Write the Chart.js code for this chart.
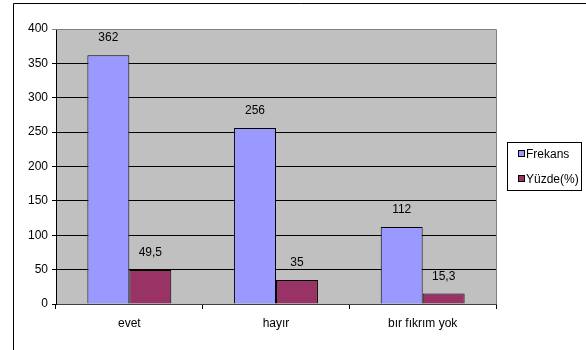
<!DOCTYPE html>
<html lang="tr">
<head>
    <meta charset="UTF-8">
    <title>Frekans ve Yüzde</title>
    <script src="https://cdn.jsdelivr.net/npm/chart.js@4.4.1/dist/chart.umd.min.js"></script>
    <style>
        html, body { margin: 0; padding: 0; background: #fff; }
        #wrap { width: 586px; height: 350px; position: relative; }
    </style>
</head>
<body>
    <div id="wrap"><canvas id="barChart"></canvas></div>
    <script>
        // data
        const categories = ['evet', 'hayır', 'bır fıkrım yok'];
        const frekans = [362, 256, 112];
        const yuzde = [49.5, 35, 15.3];
        const seriesNames = ['Frekans', 'Yüzde(%)'];
        const yTicks = [0, 50, 100, 150, 200, 250, 300, 350, 400];

        const FONT = '"Liberation Sans", Arial, sans-serif';

        // grey plot area, outer frame and the right-hand legend
        const excelLook = {
            id: 'excelLook',
            beforeDraw(chart) {
                const { ctx, chartArea: a } = chart;
                ctx.save();
                ctx.fillStyle = '#c0c0c0';
                ctx.fillRect(a.left, a.top, a.right - a.left, a.bottom - a.top);
                // outer frame (left + top edge only visible)
                ctx.strokeStyle = '#000';
                ctx.lineWidth = 1;
                ctx.beginPath();
                ctx.moveTo(13.5, chart.height + 5);
                ctx.lineTo(13.5, 3.5);
                ctx.lineTo(chart.width + 5, 3.5);
                ctx.stroke();
                ctx.restore();
            },
            afterDraw(chart) {
                const { ctx, chartArea: a } = chart;
                ctx.save();
                // plot border top/right
                ctx.strokeStyle = '#808080';
                ctx.lineWidth = 1;
                ctx.beginPath();
                ctx.moveTo(a.left, a.top + 0.5);
                ctx.lineTo(a.right + 0.5, a.top + 0.5);
                ctx.lineTo(a.right + 0.5, a.bottom);
                ctx.stroke();

                // value labels above bars
                ctx.font = '12px ' + FONT;
                ctx.fillStyle = '#000';
                ctx.textAlign = 'center';
                ctx.textBaseline = 'bottom';
                chart.data.datasets.forEach((ds, i) => {
                    chart.getDatasetMeta(i).data.forEach((bar, j) => {
                        const txt = String(ds.data[j]).replace('.', ',');
                        ctx.fillText(txt, bar.x, bar.y - 11);
                    });
                });

                // legend box
                const lx = 507.5, ly = 142.5, lw = 74, lh = 48;
                ctx.fillStyle = '#fff';
                ctx.fillRect(lx, ly, lw, lh);
                ctx.strokeStyle = '#000';
                ctx.strokeRect(lx, ly, lw, lh);
                ctx.textAlign = 'left';
                ctx.textBaseline = 'middle';
                chart.data.datasets.forEach((ds, i) => {
                    const cy = 154 + i * 25;
                    ctx.fillStyle = ds.backgroundColor;
                    ctx.fillRect(518.5, cy - 3.5, 6, 6);
                    ctx.strokeStyle = '#000';
                    ctx.strokeRect(518.5, cy - 3.5, 6, 6);
                    ctx.fillStyle = '#000';
                    ctx.fillText(ds.label, 526, cy + 1);
                });
                ctx.restore();
            }
        };

        new Chart(document.getElementById('barChart'), {
            type: 'bar',
            data: {
                labels: categories,
                datasets: [{
                    label: seriesNames[0],
                    data: frekans,
                    backgroundColor: '#9999ff',
                    borderColor: '#000',
                    borderWidth: 1
                }, {
                    label: seriesNames[1],
                    data: yuzde,
                    backgroundColor: '#993366',
                    borderColor: '#000',
                    borderWidth: 1
                }]
            },
            options: {
                responsive: true,
                maintainAspectRatio: false,
                animation: false,
                layout: { padding: { left: 13, top: 29, right: 90, bottom: 0 } },
                datasets: {
                    bar: { categoryPercentage: 0.572, barPercentage: 1 }
                },
                scales: {
                    x: {
                        grid: {
                            offset: true,
                            drawOnChartArea: false,
                            drawTicks: true,
                            tickLength: 5,
                            color: '#000'
                        },
                        border: { color: '#404040', width: 1 },
                        ticks: {
                            color: '#000',
                            font: { family: FONT, size: 12 },
                            padding: 7,
                            maxRotation: 0
                        },
                        afterFit(scale) { scale.height = 46; }
                    },
                    y: {
                        min: 0,
                        max: 400,
                        afterBuildTicks(scale) {
                            scale.ticks = yTicks.map(v => ({ value: v }));
                        },
                        grid: {
                            color: ctx => (ctx.tick && ctx.tick.value === 400) ? '#808080' : '#000',
                            tickLength: 4,
                            drawTicks: true
                        },
                        border: { color: '#000', width: 1 },
                        ticks: {
                            color: '#000',
                            font: { family: FONT, size: 12 },
                            padding: 4
                        },
                        afterFit(scale) { scale.width = 43; }
                    }
                },
                plugins: {
                    legend: { display: false },
                    tooltip: { enabled: false }
                }
            },
            plugins: [excelLook]
        });
    </script>
</body>
</html>
